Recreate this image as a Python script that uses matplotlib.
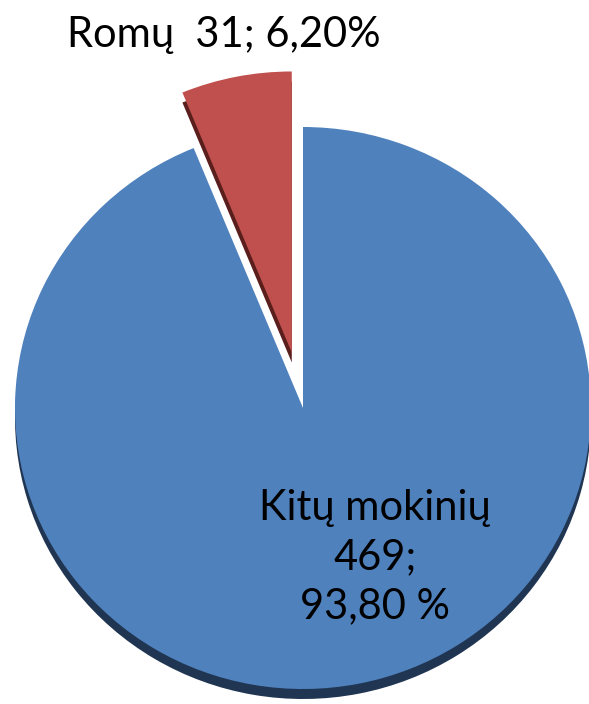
import matplotlib.pyplot as plt

# data
names = ['Romų', 'Kitų mokinių']
counts = [31, 469]
pcts = ['6,20%', '93,80 %']
face_colors = ['#C0504D', '#4F81BD']
edge_colors = ['#5A1E1C', '#203552']

W, H = 589, 704
fig = plt.figure(figsize=(W / 100, H / 100), dpi=100)
ax = fig.add_axes([0, 0, 1, 1])

# slightly flattened pie (3d look): x in px, y stretched by k
rx, ry = 288, 281
k = rx / ry
cx, cy = 303, (H - 408) * k
expl = [58, 0]

# dark "3d" side, shifted down
ax.pie(counts, colors=edge_colors, startangle=90, counterclock=True,
       radius=rx, center=(cx, cy - 10 * k), explode=expl,
       wedgeprops=dict(linewidth=0))
# face
ax.pie(counts, colors=face_colors, startangle=90, counterclock=True,
       radius=rx, center=(cx, cy), explode=expl,
       wedgeprops=dict(linewidth=0))

ax.set_xlim(0, W)
ax.set_ylim(0, H * k)
ax.set_aspect('auto')
ax.axis('off')

font = ['Lato', 'DejaVu Sans']
fig.text(224 / W, 1 - 35 / H, '%s  %d; %s' % (names[0], counts[0], pcts[0]),
         ha='center', va='center', fontsize=30, family=font, color='black')
fig.text(375 / W, 1 - 557 / H, '%s\n%d;\n%s' % (names[1], counts[1], pcts[1]),
         ha='center', va='center', fontsize=30, family=font, color='black',
         linespacing=1.35)

fig.savefig('out.png', dpi=100)
